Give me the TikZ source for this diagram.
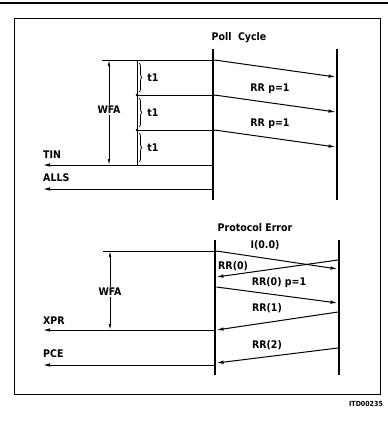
\documentclass[tikz,border=0pt]{standalone}
\usepackage{fontspec}
\setmainfont{DejaVu Sans Condensed}[BoldFont={DejaVu Sans Condensed Bold}]
\usetikzlibrary{arrows.meta,decorations.pathreplacing}
\begin{document}
\begin{tikzpicture}[x=1pt,y=-1pt,font=\fontsize{10.5}{12}\selectfont\bfseries,
  bar/.style={line width=2.6pt},
  ln/.style={line width=1pt},
  msg/.style={line width=1pt,-{Latex[length=7pt,width=3.5pt]}},
  dim/.style={line width=0.7pt,-{Latex[length=6pt,width=2.5pt]}},
  lbl/.style={inner sep=1pt}]
\useasboundingbox(0,0)rectangle(388,426);
\draw[line width=1.2pt](0,3)--(388,3);
\draw[line width=1pt](14,18)rectangle(380,394);
\node[lbl,font=\fontsize{7}{8}\selectfont\bfseries](itd)at(366,404){ITD00235};
% poll cycle
\coordinate(pa0)at(213,49);\coordinate(pa1)at(213,200);
\coordinate(pb0)at(337,49);\coordinate(pb1)at(337,200);
\draw[bar](pa0)--(pa1);\draw[bar](pb0)--(pb1);
\node[lbl](poll)at(239,38){Poll\ \ Cycle};
\foreach \y [count=\k] in {60,95,130}{
\coordinate(ps\k)at(214.5,\y);\coordinate(pe\k)at(335.5,\y+17);
\draw[msg](ps\k)--(pe\k);}
\node[lbl](rr1)at(270,89){RR p=1};
\node[lbl](rr2)at(270,124){RR p=1};
\coordinate(top)at(102,60);\coordinate(tk)at(137,60);
\coordinate(tk1)at(137,95);\coordinate(tk2)at(137,130);\coordinate(tk3)at(137,165);
\draw[ln](top)--(ps1);\draw[ln](tk1)--(ps2);\draw[ln](tk2)--(ps3);
\draw[ln](tk)--(tk3);
\fill(tk1)circle(1.3);\fill(tk2)circle(1.3);
\foreach \a/\b [count=\k] in {60/95,95/130,130/165}{
\draw[line width=0.7pt,decorate,decoration={brace,amplitude=3pt}](139,\a+3)--(139,\b-3);
\node[lbl](t\k)at(153,{(\a+\b)/2}){t1};}
\node[lbl](wfa)at(109,110){WFA};
\draw[dim](wfa.north)--(109,60);\draw[dim](wfa.south)--(109,165);
\coordinate(tin)at(43,165);\coordinate(alls)at(43,189);
\draw[msg](213,165)--(tin);\draw[msg](213,189)--(alls);
\node[lbl,anchor=west](tinl)at(42,155){TIN};
\node[lbl,anchor=west](allsl)at(42,178){ALLS};
% protocol error
\coordinate(qa0)at(215,240);\coordinate(qa1)at(215,375);
\coordinate(qb0)at(339,240);\coordinate(qb1)at(339,375);
\draw[bar](qa0)--(qa1);\draw[bar](qb0)--(qb1);
\node[lbl](perr)at(255,228){Protocol\ Error};
\coordinate(i0)at(216.5,251);\coordinate(i1)at(337.5,269);
\coordinate(r0a)at(338,260);\coordinate(r0b)at(216.5,277);
\coordinate(r1a)at(216.5,287);\coordinate(r1b)at(337.5,303);
\coordinate(r2a)at(338,312);\coordinate(r2b)at(216.5,330);
\coordinate(r3a)at(338,348);\coordinate(r3b)at(216.5,363);
\draw[msg](i0)--(i1);\draw[msg](r0a)--(r0b);\draw[msg](r1a)--(r1b);
\draw[msg](r2a)--(r2b);\draw[msg](r3a)--(r3b);
\node[lbl](il)at(265,245){I(0.0)};
\node[lbl,anchor=west](rr0)at(217,266){RR(0)};
\node[lbl](rr0p)at(279,283){RR(0) p=1};
\node[lbl](rr1b)at(267,308){RR(1)};
\node[lbl](rr2b)at(267,345){RR(2)};
\coordinate(top2)at(103,251);
\draw[ln](top2)--(i0);
\node[lbl](wfa2)at(110,292){WFA};
\draw[dim](wfa2.north)--(110,251);\draw[dim](wfa2.south)--(110,330);
\coordinate(xpr)at(43,330);\coordinate(pce)at(43,365);
\draw[msg](215,330)--(xpr);\draw[msg](215,365)--(pce);
\node[lbl,anchor=west](xprl)at(42,321){XPR};
\node[lbl,anchor=west](pcel)at(42,354){PCE};
\end{tikzpicture}
\end{document}
